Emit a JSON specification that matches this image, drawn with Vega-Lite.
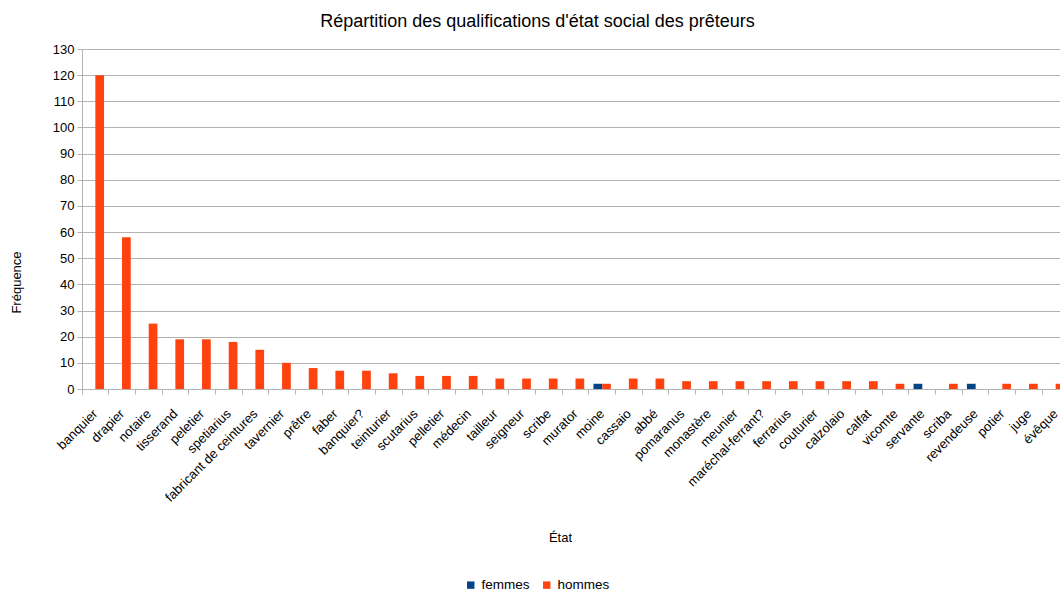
{
  "$schema": "https://vega.github.io/schema/vega-lite/v6.json",
  "autosize": "none",
  "padding": {"left": 82, "top": 49, "right": 0, "bottom": 204},
  "width": 987,
  "height": 340,
  "background": "white",
  "config": {
    "font": "Liberation Sans",
    "view": {"stroke": null},
    "axis": {"labelFont": "Liberation Sans", "titleFont": "Liberation Sans", "labelColor": "#000", "titleColor": "#000", "titleFontWeight": "normal", "labelFontSize": 13, "titleFontSize": 13}
  },
  "title": {
    "text": "Répartition des qualifications d'état social des prêteurs",
    "font": "Liberation Sans",
    "fontSize": 18,
    "fontWeight": "normal",
    "color": "#000",
    "anchor": "middle",
    "dx": -38,
    "offset": 12
  },
  "data": {
    "values": [
      {"etat": "banquier", "sexe": "hommes", "n": 120},
      {"etat": "drapier", "sexe": "hommes", "n": 58},
      {"etat": "notaire", "sexe": "hommes", "n": 25},
      {"etat": "tisserand", "sexe": "hommes", "n": 19},
      {"etat": "peletier", "sexe": "hommes", "n": 19},
      {"etat": "spetiarius", "sexe": "hommes", "n": 18},
      {"etat": "fabricant de ceintures", "sexe": "hommes", "n": 15},
      {"etat": "tavernier", "sexe": "hommes", "n": 10},
      {"etat": "prêtre", "sexe": "hommes", "n": 8},
      {"etat": "faber", "sexe": "hommes", "n": 7},
      {"etat": "banquier?", "sexe": "hommes", "n": 7},
      {"etat": "teinturier", "sexe": "hommes", "n": 6},
      {"etat": "scutarius", "sexe": "hommes", "n": 5},
      {"etat": "pelletier", "sexe": "hommes", "n": 5},
      {"etat": "médecin", "sexe": "hommes", "n": 5},
      {"etat": "tailleur", "sexe": "hommes", "n": 4},
      {"etat": "seigneur", "sexe": "hommes", "n": 4},
      {"etat": "scribe", "sexe": "hommes", "n": 4},
      {"etat": "murator", "sexe": "hommes", "n": 4},
      {"etat": "moine", "sexe": "femmes", "n": 2},
      {"etat": "moine", "sexe": "hommes", "n": 2},
      {"etat": "cassaio", "sexe": "hommes", "n": 4},
      {"etat": "abbé", "sexe": "hommes", "n": 4},
      {"etat": "pomaranus", "sexe": "hommes", "n": 3},
      {"etat": "monastère", "sexe": "hommes", "n": 3},
      {"etat": "meunier", "sexe": "hommes", "n": 3},
      {"etat": "maréchal-ferrant?", "sexe": "hommes", "n": 3},
      {"etat": "ferrarius", "sexe": "hommes", "n": 3},
      {"etat": "couturier", "sexe": "hommes", "n": 3},
      {"etat": "calzolaio", "sexe": "hommes", "n": 3},
      {"etat": "calfat", "sexe": "hommes", "n": 3},
      {"etat": "vicomte", "sexe": "hommes", "n": 2},
      {"etat": "servante", "sexe": "femmes", "n": 2},
      {"etat": "scriba", "sexe": "hommes", "n": 2},
      {"etat": "revendeuse", "sexe": "femmes", "n": 2},
      {"etat": "potier", "sexe": "hommes", "n": 2},
      {"etat": "juge", "sexe": "hommes", "n": 2},
      {"etat": "évêque", "sexe": "hommes", "n": 2}
    ]
  },
  "mark": {"type": "bar"},
  "encoding": {
    "x": {
      "field": "etat",
      "type": "nominal",
      "sort": null,
      "scale": {"paddingInner": 0, "paddingOuter": 0},
      "axis": {
        "title": "État",
        "bandPosition": 0,
        "labelOffset": -4,
        "labelAngle": -45,
        "labelAlign": "right",
        "labelBaseline": "top",
        "labelPadding": 13,
        "tickSize": 5,
        "tickColor": "#b3b3b3",
        "domainColor": "#b3b3b3",
        "labelOverlap": false,
        "labelLimit": 300,
        "titleX": 478,
        "titleY": 148,
        "titleAlign": "center",
        "titleBaseline": "middle",
        "grid": false
      }
    },
    "xOffset": {
      "field": "sexe",
      "type": "nominal",
      "scale": {"domain": ["femmes", "hommes"], "paddingInner": 0, "paddingOuter": 0.53}
    },
    "y": {
      "field": "n",
      "type": "quantitative",
      "scale": {"domain": [0, 130], "nice": false},
      "axis": {
        "title": "Fréquence",
        "values": [0, 10, 20, 30, 40, 50, 60, 70, 80, 90, 100, 110, 120, 130],
        "tickSize": 5,
        "labelPadding": 3,
        "tickColor": "#b3b3b3",
        "domainColor": "#b3b3b3",
        "gridColor": "#b3b3b3",
        "grid": true,
        "titleX": -66,
        "titleY": 233,
        "titleAlign": "center",
        "titleBaseline": "middle"
      }
    },
    "color": {
      "field": "sexe",
      "type": "nominal",
      "scale": {"domain": ["femmes", "hommes"], "range": ["#004586", "#ff420e"]},
      "legend": {
        "title": null,
        "orient": "none",
        "direction": "horizontal",
        "legendX": 382,
        "legendY": 529,
        "symbolType": "square",
        "symbolSize": 55,
        "symbolStrokeWidth": 0,
        "labelFontSize": 13.5,
        "labelFont": "Liberation Sans",
        "labelColor": "#000",
        "columnPadding": 10,
        "labelOffset": 4
      }
    }
  }
}
